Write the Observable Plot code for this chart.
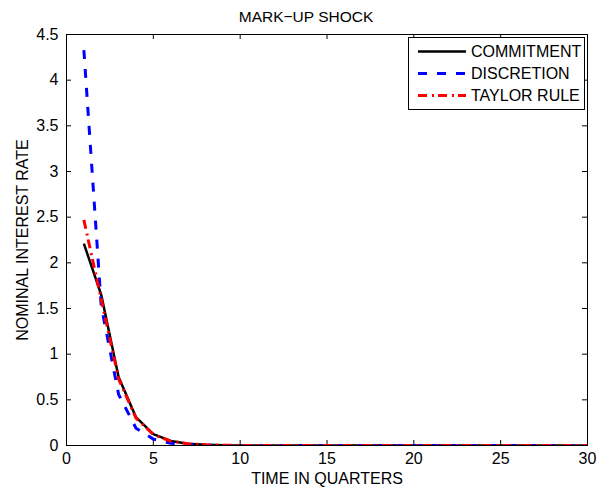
<!DOCTYPE html>
<html>
<head>
<meta charset="utf-8">
<script src="https://cdn.jsdelivr.net/npm/d3@7"></script>
<script src="https://cdn.jsdelivr.net/npm/@observablehq/plot@0.6"></script>
<style>
  html, body { margin: 0; padding: 0; background: #fff; }
  #wrap { position: relative; width: 612px; height: 491px; font-family: "Liberation Sans", Arial, sans-serif; }
  #title { height: 23px; padding-top: 5px; line-height: 23px; text-align: center; font-size: 15.5px; color: #000; }
  #legend { position: absolute; left: 408px; top: 37px; width: 175px; height: 71px; border: 1px solid #000; background: #fff; }
  #legend svg { display: block; }
</style>
</head>
<body>
<div id="wrap">
  <div id="title">MARK−UP SHOCK</div>
  <div id="chart"></div>
  <div id="legend"></div>
</div>
<script>
const quarters = d3.range(1, 31);
const commitment = [2.21, 1.65, 0.75, 0.31, 0.125, 0.05, 0.02, 0.008, 0.003, 0.001, 0, 0, 0, 0, 0, 0, 0, 0, 0, 0, 0, 0, 0, 0, 0, 0, 0, 0, 0, 0];
const discretion = [4.33, 1.53, 0.56, 0.19, 0.07, 0.025, 0.009, 0.003, 0.001, 0, 0, 0, 0, 0, 0, 0, 0, 0, 0, 0, 0, 0, 0, 0, 0, 0, 0, 0, 0, 0];
const taylor = [2.47, 1.6, 0.73, 0.3, 0.12, 0.048, 0.019, 0.008, 0.003, 0.001, 0, 0, 0, 0, 0, 0, 0, 0, 0, 0, 0, 0, 0, 0, 0, 0, 0, 0, 0, 0];
const xTicks = [0, 5, 10, 15, 20, 25, 30];
const yTicks = [0, 0.5, 1, 1.5, 2, 2.5, 3, 3.5, 4, 4.5];
const seriesNames = ["COMMITMENT", "DISCRETION", "TAYLOR RULE"];

const styles = {
  "COMMITMENT": {stroke: "#000000", strokeWidth: 2.5, strokeDasharray: null},
  "DISCRETION": {stroke: "#0000ff", strokeWidth: 3, strokeDasharray: "9,10"},
  "TAYLOR RULE": {stroke: "#ff0000", strokeWidth: 3, strokeDasharray: "9,5,2,4"}
};

const seriesValues = [commitment, discretion, taylor];
const tables = seriesNames.map((name, i) => quarters.map((t, j) => ({t, v: seriesValues[i][j], name})));

const W = 612, H = 463, mL = 66, mR = 25, mT = 6, mB = 46;
const innerW = W - mL - mR, innerH = H - mT - mB;
const tickLen = 5;

const chart = Plot.plot({
  width: W, height: H,
  marginLeft: mL, marginRight: mR, marginTop: mT, marginBottom: mB,
  style: {fontFamily: "'Liberation Sans', Arial, sans-serif", fontSize: "16px", color: "#000", background: "#fff", overflow: "visible"},
  x: {domain: [0, 30]},
  y: {domain: [0, 4.5]},
  marks: [
    Plot.axisX({ticks: xTicks, tickSize: 0, tickPadding: 7, tickFormat: d => String(d), label: "TIME IN QUARTERS", labelAnchor: "center", labelArrow: "none", labelOffset: 38}),
    Plot.axisY({ticks: yTicks, tickSize: 0, tickPadding: 8, tickFormat: d => String(d), label: "NOMINAL INTEREST RATE", labelAnchor: "center", labelArrow: "none", labelOffset: 50}),
    Plot.tickX(xTicks, {x: d => d, insetTop: innerH - tickLen, stroke: "#000", strokeWidth: 1}),
    Plot.tickX(xTicks, {x: d => d, insetBottom: innerH - tickLen, stroke: "#000", strokeWidth: 1}),
    Plot.tickY(yTicks, {y: d => d, insetRight: innerW - tickLen, stroke: "#000", strokeWidth: 1}),
    Plot.tickY(yTicks, {y: d => d, insetLeft: innerW - tickLen, stroke: "#000", strokeWidth: 1}),
    ...tables.map((tab, i) => {
      const s = styles[seriesNames[i]];
      return Plot.line(tab, {x: "t", y: "v", stroke: s.stroke, strokeWidth: s.strokeWidth, strokeDasharray: s.strokeDasharray, strokeLinejoin: "miter", strokeLinecap: "butt", clip: true});
    }),
    Plot.frame({stroke: "#000", strokeWidth: 1})
  ]
});
document.getElementById("chart").appendChild(chart);

// Legend
const lg = d3.select("#legend").append("svg").attr("width", 175).attr("height", 71);
seriesNames.forEach((name, i) => {
  const s = styles[name];
  const cy = 13.5 + i * 22;
  lg.append("line").attr("x1", 9).attr("x2", 57).attr("y1", cy).attr("y2", cy)
    .attr("stroke", s.stroke).attr("stroke-width", s.strokeWidth)
    .attr("stroke-dasharray", s.strokeDasharray);
  lg.append("text").attr("x", 62).attr("y", cy).attr("dy", "0.36em")
    .attr("font-size", "16px").attr("font-family", "'Liberation Sans', Arial, sans-serif")
    .attr("fill", "#000").text(name);
});
</script>
</body>
</html>
